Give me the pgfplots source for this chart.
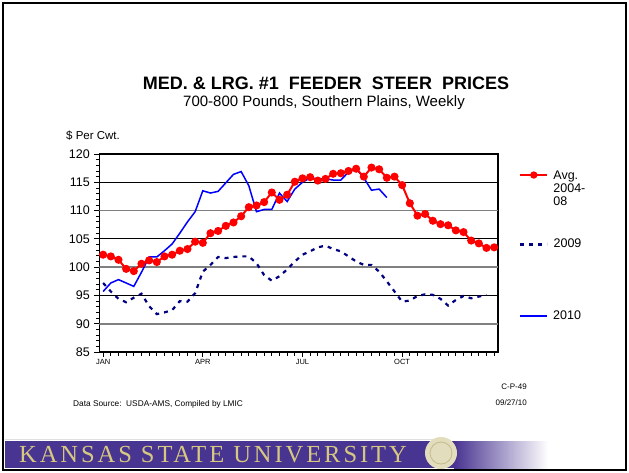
\documentclass[border=0pt]{standalone}
\usepackage{fontspec}
\setmainfont{Liberation Sans}
\newfontfamily\kfont{Liberation Serif}
\usepackage{pgfplots}
\pgfplotsset{compat=1.18}
\definecolor{kpurple}{RGB}{72,52,145}
\definecolor{kgold}{RGB}{214,200,128}
\definecolor{gridgray}{RGB}{128,128,128}
\definecolor{navy09}{RGB}{0,0,128}
\definecolor{sealfill}{RGB}{226,221,188}
\definecolor{sealline}{RGB}{196,186,140}
\pgfplotstableread{
w v
1 102.2
2 101.9
3 101.3
4 99.7
5 99.3
6 100.6
7 101.2
8 100.9
9 101.9
10 102.2
11 102.9
12 103.2
13 104.5
14 104.3
15 106.0
16 106.4
17 107.3
18 107.9
19 109.0
20 110.6
21 110.9
22 111.5
23 113.2
24 111.9
25 112.8
26 115.1
27 115.7
28 115.9
29 115.3
30 115.6
31 116.5
32 116.6
33 117.0
34 117.4
35 116.0
36 117.6
37 117.3
38 115.8
39 116.0
40 114.5
41 111.3
42 109.1
43 109.4
44 108.2
45 107.6
46 107.4
47 106.5
48 106.2
49 104.7
50 104.2
51 103.4
52 103.5
}\avgtab
\pgfplotstableread{
w v
1 97.2
2 95.7
3 94.4
4 93.8
5 94.6
6 95.3
7 93.1
8 91.7
9 92.0
10 92.4
11 94.0
12 93.9
13 95.4
14 99.2
15 100.4
16 101.8
17 101.6
18 101.8
19 101.9
20 101.9
21 100.7
22 98.6
23 97.6
24 98.4
25 99.6
26 101.0
27 102.2
28 102.8
29 103.5
30 103.8
31 103.2
32 102.8
33 101.9
34 101.0
35 100.4
36 100.4
37 99.2
38 97.5
39 95.7
40 93.9
41 94.1
42 94.9
43 95.2
44 95.1
45 94.4
46 93.2
47 94.2
48 94.9
49 94.5
50 94.8
51 95.1
}\nineTab
\pgfplotstableread{
w v
1 95.7
2 97.2
3 97.8
4 97.2
5 96.6
6 99.1
7 101.8
8 101.8
9 102.9
10 104.1
11 106.0
12 108.0
13 109.8
14 113.5
15 113.1
16 113.4
17 114.9
18 116.4
19 116.9
20 114.4
21 109.8
22 110.2
23 110.2
24 113.1
25 111.6
26 113.8
27 115.0
28 115.8
29 115.6
30 115.6
31 115.4
32 115.4
33 116.8
34 117.4
35 115.8
36 113.6
37 113.8
38 112.3
}\tenTab
\pgfplotsset{
  legax/.style={
    at={(99.3bp,-352bp)}, anchor=south west,
    scale only axis, width=398.7bp, height=198bp,
    xmin=0.5, xmax=52.5, ymin=85, ymax=120, hide axis,
    legend style={at={(rel axis cs:1,1)}, anchor=north west, xshift=21bp, yshift=-#1,
      draw=none, fill=none, inner sep=0pt, column sep=5bp,
      nodes={inner sep=0pt}, font=\fontsize{12.5bp}{14.5bp}\selectfont},
    legend cell align=left,
    legend image code/.code={\draw[mark repeat=2,mark phase=2,##1] plot coordinates {(0bp,0bp) (13.5bp,0bp) (27bp,0bp)};},
  }
}
\begin{document}
\begin{tikzpicture}
\path[use as bounding box] (0,0) rectangle (629bp,-473bp);
% banner
\fill[kpurple] (5bp,-441bp) rectangle (455bp,-468bp);
\shade[left color=kpurple,right color=white] (454bp,-441bp) rectangle (548bp,-468bp);
\draw[black!12,line width=1bp] (5bp,-439.5bp) -- (440bp,-439.5bp);
\node[anchor=west,text=kgold,inner sep=0pt] at (19bp,-455bp)
  {\kfont\addfontfeatures{LetterSpace=12}\fontsize{24.5bp}{27bp}\selectfont KANSAS STATE UNIVERSITY};
\fill[sealfill] (441bp,-453bp) circle (16bp);
\draw[sealline,line width=0.8bp] (441bp,-453bp) circle (11bp);
% frame
\draw[line width=2bp] (3bp,-3bp) rectangle (626bp,-470bp);
% titles
\node[font=\bfseries\fontsize{18bp}{20bp}\selectfont] at (326bp,-83bp) {MED.\ \& LRG.\ \#1\ \ FEEDER\ \ STEER\ \ PRICES};
\node[font=\fontsize{15bp}{17bp}\selectfont] at (324bp,-103bp) {700-800 Pounds, Southern Plains, Weekly};
\node[anchor=west,inner sep=0pt,font=\fontsize{11.5bp}{13bp}\selectfont] at (66bp,-136bp) {\$ Per Cwt.};
\node[anchor=west,inner sep=0pt,font=\fontsize{8.3bp}{10bp}\selectfont] at (73bp,-404bp) {Data Source:\ \ USDA-AMS, Compiled by LMIC};
\node[anchor=east,inner sep=0pt,font=\fontsize{8bp}{10bp}\selectfont] at (527bp,-387bp) {C-P-49};
\node[anchor=east,inner sep=0pt,font=\fontsize{8bp}{10bp}\selectfont] at (527bp,-403bp) {09/27/10};
\begin{axis}[
  at={(99.3bp,-352bp)}, anchor=south west,
  scale only axis, width=398.7bp, height=198bp,
  xmin=0.5, xmax=52.5, ymin=85, ymax=120,
  ytick={85,90,...,120}, minor ytick={85,...,120},
  xtick={1,14,27,40}, xticklabels={JAN,APR,JUL,OCT},
  minor xtick={1,...,52},
  tick align=outside, tick pos=left,
  major tick length=5bp, minor tick length=3.5bp,
  every tick/.style={black,line width=0.8bp},
  axis line style={black,line width=1.5bp},
  /pgf/number format/assume math mode=true,
  yticklabel style={font=\fontsize{12.5bp}{14bp}\selectfont, xshift=-1bp},
  xticklabel style={font=\fontsize{7.5bp}{9bp}\selectfont, yshift=1bp},
]
\draw[gridgray,line width=1.8bp] (axis cs:0.5,90) -- (axis cs:52.5,90);
\draw[gridgray,line width=1.8bp] (axis cs:0.5,100) -- (axis cs:52.5,100);
\draw[gridgray,line width=1.8bp] (axis cs:0.5,110) -- (axis cs:52.5,110);
\draw[black,line width=1bp] (axis cs:0.5,95) -- (axis cs:52.5,95);
\draw[black,line width=1bp] (axis cs:0.5,105) -- (axis cs:52.5,105);
\draw[black,line width=1bp] (axis cs:0.5,115) -- (axis cs:52.5,115);
\addplot[navy09, line width=2.2bp, dash pattern=on 4bp off 5bp] table[x=w,y=v] {\nineTab};
\addplot[blue, line width=1.5bp] table[x=w,y=v] {\tenTab};
\addplot[red, line width=2bp, mark=*, mark size=3bp, mark options={fill=red,draw=red,solid}] table[x=w,y=v] {\avgtab};
\end{axis}
\begin{axis}[legax=15bp]
\addlegendimage{red, line width=2.2bp, mark=*, mark size=2.5bp, mark options={fill=red,draw=red,solid}}
\addlegendentry{\begin{tabular}[t]{@{}l@{}}Avg.\\[-1.5bp]2004-\\[-1.5bp]08\end{tabular}}
\end{axis}
\begin{axis}[legax=85bp]
\addlegendimage{navy09, line width=2.4bp, dash pattern=on 4bp off 5bp}
\addlegendentry{2009}
\end{axis}
\begin{axis}[legax=157bp]
\addlegendimage{blue, line width=2bp}
\addlegendentry{2010}
\end{axis}
\end{tikzpicture}
\end{document}
